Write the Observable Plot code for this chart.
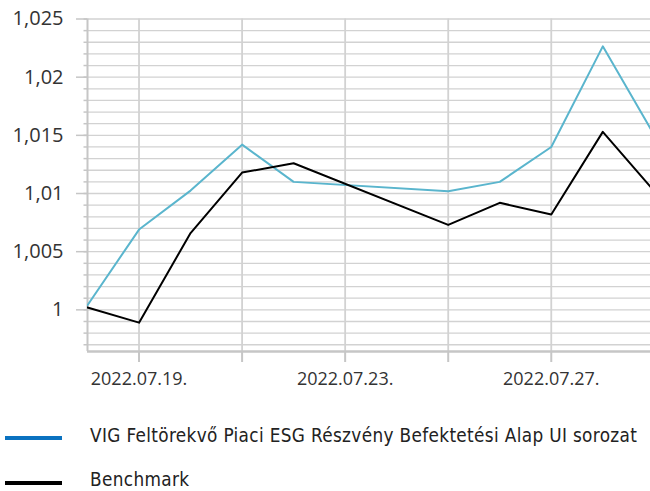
<!DOCTYPE html>
<html>
<head>
<meta charset="utf-8">
<script src="https://cdn.jsdelivr.net/npm/d3@7"></script>
<script src="https://cdn.jsdelivr.net/npm/@observablehq/plot@0.6"></script>
<style>
  html, body { margin: 0; padding: 0; background: #fff; overflow: hidden; }
  #wrap { position: relative; width: 650px; height: 491px; }
  .legend-line { position: absolute; left: 5px; width: 57px; height: 4px; }
  .legend-text { position: absolute; left: 90px; font-family: "DejaVu Sans Condensed", "DejaVu Sans", sans-serif; font-stretch: condensed; font-size: 18.8px; letter-spacing: 0.35px; color: #222; white-space: nowrap; line-height: 14px; height: 14px; }
</style>
</head>
<body>
<div id="wrap">
  <div id="chart"></div>
  <div id="legend"></div>
</div>
<script>
// ---- data ----
const dates = ["2022-07-18","2022-07-19","2022-07-20","2022-07-21","2022-07-22","2022-07-25","2022-07-26","2022-07-27","2022-07-28","2022-07-29"];
const fundValues = [1.0004, 1.0069, 1.01025, 1.0142, 1.0110, 1.0102, 1.0110, 1.0140, 1.02265, 1.0150];
const benchValues = [1.0002, 0.9989, 1.0066, 1.0118, 1.0126, 1.0073, 1.0092, 1.0082, 1.0153, 1.0102];
const seriesNames = ["VIG Feltörekvő Piaci ESG Részvény Befektetési Alap UI sorozat", "Benchmark"];
const yTicks = [1, 1.005, 1.01, 1.015, 1.02, 1.025];
const yTickLabels = ["1", "1,005", "1,01", "1,015", "1,02", "1,025"];
const xTicks = ["2022-07-19","2022-07-21","2022-07-23","2022-07-25","2022-07-27"];
const xTickLabels = ["2022.07.19.", "", "2022.07.23.", "", "2022.07.27."];
const yMinorTicks = [0.997, 0.998, 0.999, 1, 1.001, 1.002, 1.003, 1.004, 1.005, 1.006, 1.007, 1.008, 1.009, 1.01,
  1.011, 1.012, 1.013, 1.014, 1.015, 1.016, 1.017, 1.018, 1.019, 1.02, 1.021, 1.022, 1.023, 1.024, 1.025];

// ---- build ----
const rows = dates.map((d, i) => ({date: new Date(d), fund: fundValues[i], bench: benchValues[i]}));
const minorRows = yMinorTicks.map(v => ({v}));
const xDomain = [new Date("2022-07-18T00:00Z"), new Date("2022-07-28T22:13Z")];
const yDomain = [0.99642, 1.025];
const xTickDates = xTicks.map(d => new Date(d));
const gridColor = "#d2d2d2";
const axisColor = "#c6c6c6";

const chart = Plot.plot({
  width: 650,
  height: 400,
  marginLeft: 87,
  marginRight: 0,
  marginTop: 18.5,
  marginBottom: 49,
  style: {background: "transparent", overflow: "hidden"},
  x: {type: "utc", domain: xDomain, axis: null},
  y: {domain: yDomain, axis: null},
  marks: [
    Plot.ruleY(minorRows, {y: "v", stroke: gridColor, strokeWidth: 1.3}),
    Plot.ruleX(xTickDates, {stroke: gridColor, strokeWidth: 1.8}),
    Plot.ruleY(minorRows, {y: "v", x1: xDomain[0], x2: xDomain[0], insetLeft: -3.5, stroke: axisColor, strokeWidth: 1.5}),
    Plot.axisY(yTicks, {
      tickSize: 11, tickPadding: 13, stroke: axisColor, strokeWidth: 1.5,
      tickFormat: (d) => yTickLabels[yTicks.indexOf(d)],
      fontSize: 20, fontFamily: "'Open Sans', sans-serif", fill: "#333"
    }),
    Plot.axisX(xTickDates, {
      tickSize: 11, tickPadding: 10, stroke: axisColor, strokeWidth: 2,
      tickFormat: (d) => xTickLabels[xTickDates.findIndex(t => +t === +d)],
      fontSize: 18, fontFamily: "'Open Sans', sans-serif", fill: "#333"
    }),
    Plot.ruleX([xDomain[0]], {stroke: axisColor, strokeWidth: 2}),
    Plot.ruleY([yDomain[0]], {stroke: axisColor, strokeWidth: 2.5}),
    Plot.line(rows, {x: "date", y: "fund", stroke: "#5ab5cd", strokeWidth: 2, clip: true}),
    Plot.line(rows, {x: "date", y: "bench", stroke: "#000", strokeWidth: 2, clip: true})
  ]
});
document.getElementById("chart").appendChild(chart);

// ---- legend ----
const legendColors = ["#0a72c0", "#000"];
const legendLineCenters = [438, 482.5];
const legendTextTops = [429, 473];
const legend = document.getElementById("legend");
seriesNames.forEach((name, i) => {
  const line = document.createElement("div");
  line.className = "legend-line";
  line.style.background = legendColors[i];
  line.style.top = (legendLineCenters[i] - 2) + "px";
  const text = document.createElement("div");
  text.className = "legend-text";
  text.style.top = legendTextTops[i] + "px";
  text.textContent = name;
  legend.appendChild(line);
  legend.appendChild(text);
});
</script>
</body>
</html>
